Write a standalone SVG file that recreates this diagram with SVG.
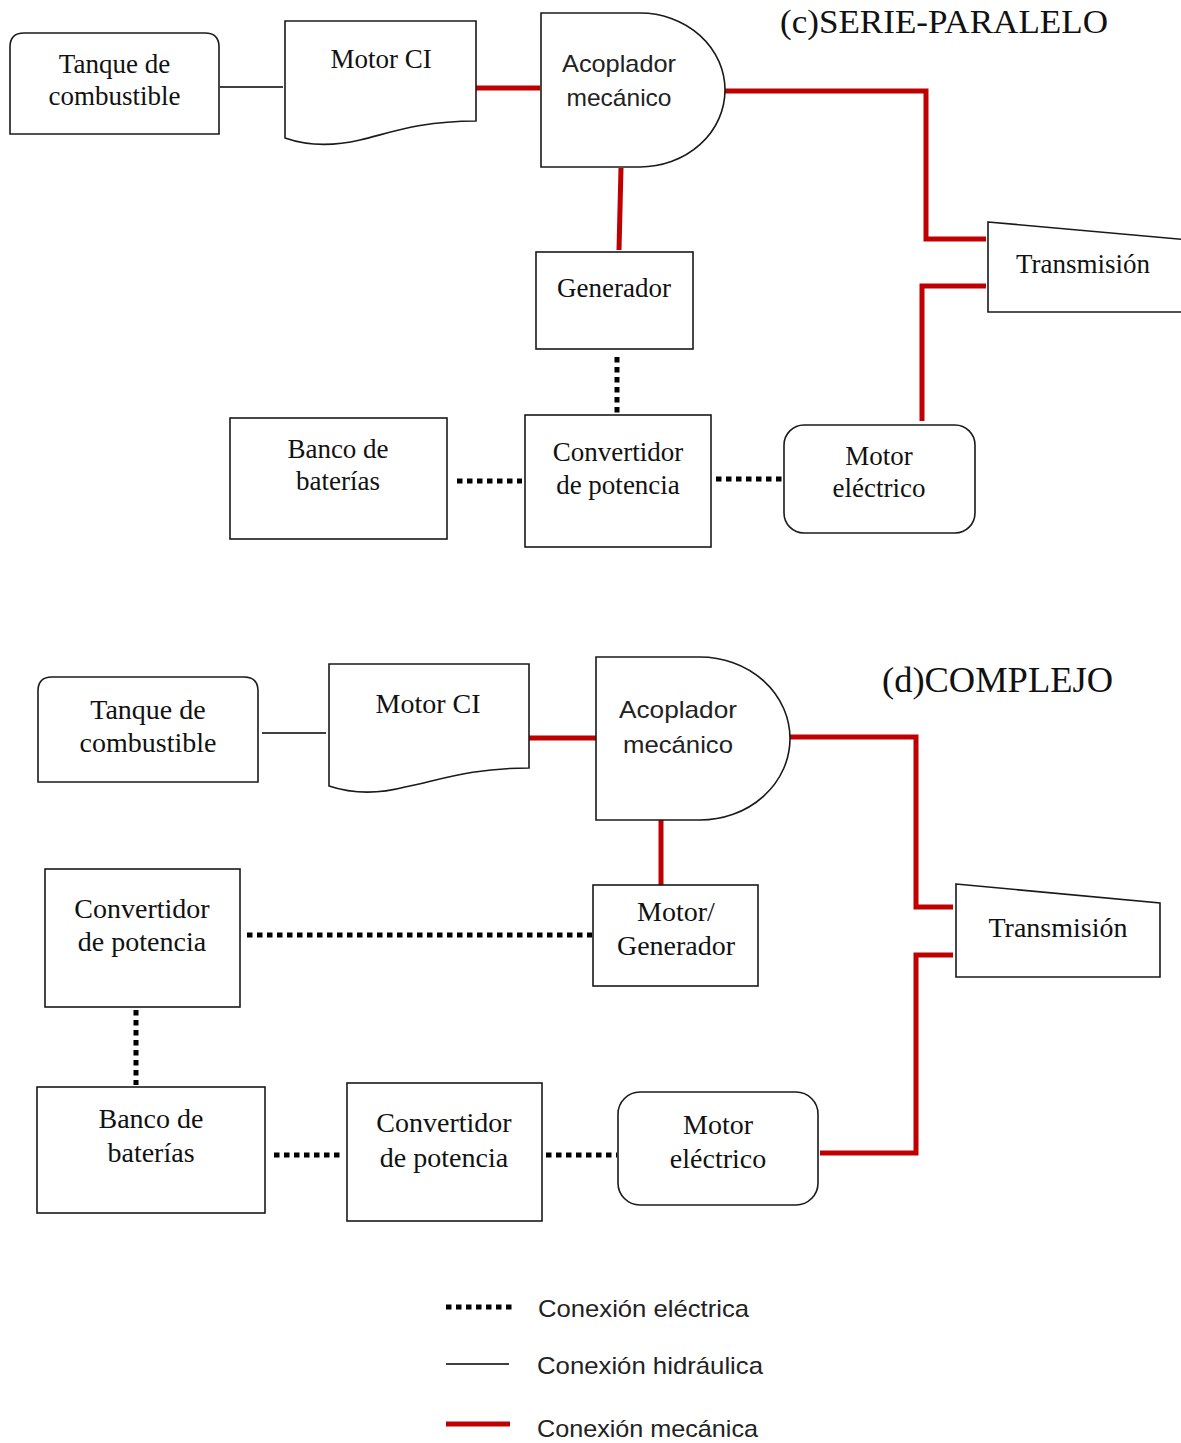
<svg xmlns="http://www.w3.org/2000/svg" width="1181" height="1443" viewBox="0 0 1181 1443">
<style>
.node{fill:#fff;stroke:#1a1a1a;stroke-width:1.6}
.serif{font-family:"Liberation Serif","Times New Roman",serif;font-size:27px;fill:#111;text-anchor:middle}
.serif28{font-family:"Liberation Serif","Times New Roman",serif;font-size:28px;fill:#111;text-anchor:middle}
.sans{font-family:"Liberation Sans",Arial,sans-serif;font-size:24px;fill:#222;text-anchor:middle}
.leg{font-family:"Liberation Sans",Arial,sans-serif;font-size:24px;fill:#222}
.title{font-family:"Liberation Serif","Times New Roman",serif;fill:#111}
.hyd{stroke:#000;stroke-width:1.5;fill:none}
.mec{stroke:#C00000;stroke-width:5;fill:none}
.ele{stroke:#000;stroke-width:5;stroke-dasharray:5.5 4.5;fill:none}
</style>
<rect x="0" y="0" width="1181" height="1443" fill="#fff"/>

<g id="connectors">
  <!-- top (c) -->
  <path class="hyd" d="M220,87 H283"/>
  <path class="mec" d="M476,88 H540"/>
  <path class="mec" d="M725,91 H926 V239 H986"/>
  <path class="mec" d="M986,286 H922 V421"/>
  <path class="mec" d="M621,168 L619,250"/>
  <path class="ele" d="M617,357 V413"/>
  <path class="ele" d="M457,481 H522"/>
  <path class="ele" d="M716,479 H783"/>
  <!-- bottom (d) -->
  <path class="hyd" d="M262,733 H326"/>
  <path class="mec" d="M529,738 H596"/>
  <path class="mec" d="M790,737 H916 V907 H953"/>
  <path class="mec" d="M953,955 H916 V1153 H820"/>
  <path class="mec" d="M661,820 V885"/>
  <path class="ele" d="M247,935 H592"/>
  <path class="ele" d="M136,1010 V1085"/>
  <path class="ele" d="M274,1155 H344"/>
  <path class="ele" d="M546,1155 H617"/>
</g>

<!-- (c) SERIE-PARALELO -->
<text class="title" x="780" y="33" font-size="33" textLength="328" lengthAdjust="spacingAndGlyphs">(c)SERIE-PARALELO</text>

<g id="c-tanque">
  <path class="node" d="M10,134 V47 Q10,33 24,33 H205 Q219,33 219,47 V134 Z"/>
  <text class="serif" x="114.5" y="73">Tanque de</text>
  <text class="serif" x="114.5" y="105">combustible</text>
</g>
<g id="c-motorci">
  <path class="node" d="M285,21 H476 V121 C420,121 390,133 360,140 C330,147 305,145 285,138 Z"/>
  <text class="serif" x="381" y="68">Motor CI</text>
</g>
<g id="c-acoplador">
  <path class="node" d="M541,13 H640 A85,77 0 0 1 640,167 H541 Z"/>
  <text class="sans" x="619" y="72" textLength="114" lengthAdjust="spacingAndGlyphs">Acoplador</text>
  <text class="sans" x="619" y="106" textLength="105" lengthAdjust="spacingAndGlyphs">mecánico</text>
</g>
<g id="c-transmision">
  <polygon class="node" points="988,222 1190,240 1190,312 988,312"/>
  <text class="serif" x="1083" y="273">Transmisión</text>
</g>
<g id="c-generador">
  <rect class="node" x="536" y="252" width="157" height="97"/>
  <text class="serif" x="614" y="297">Generador</text>
</g>
<g id="c-convertidor">
  <rect class="node" x="525" y="415" width="186" height="132"/>
  <text class="serif" x="618" y="461">Convertidor</text>
  <text class="serif" x="618" y="494">de potencia</text>
</g>
<g id="c-banco">
  <rect class="node" x="230" y="418" width="217" height="121"/>
  <text class="serif" x="338" y="458">Banco de</text>
  <text class="serif" x="338" y="490">baterías</text>
</g>
<g id="c-motorelec">
  <rect class="node" x="784" y="425" width="191" height="108" rx="20" ry="20"/>
  <text class="serif" x="879" y="465">Motor</text>
  <text class="serif" x="879" y="497">eléctrico</text>
</g>

<!-- (d) COMPLEJO -->
<text class="title" x="882" y="692" font-size="35" textLength="231" lengthAdjust="spacingAndGlyphs">(d)COMPLEJO</text>

<g id="d-tanque">
  <path class="node" d="M38,782 V691 Q38,677 52,677 H244 Q258,677 258,691 V782 Z"/>
  <text class="serif28" x="148" y="719">Tanque de</text>
  <text class="serif28" x="148" y="752">combustible</text>
</g>
<g id="d-motorci">
  <path class="node" d="M329,664 H529 V768 C470,768 440,780 405,787 C375,795 350,793 329,786 Z"/>
  <text class="serif28" x="428" y="713">Motor CI</text>
</g>
<g id="d-acoplador">
  <path class="node" d="M596,657 H700 A90,81.5 0 0 1 700,820 H596 Z"/>
  <text class="sans" x="678" y="718" textLength="118" lengthAdjust="spacingAndGlyphs">Acoplador</text>
  <text class="sans" x="678" y="753" textLength="110" lengthAdjust="spacingAndGlyphs">mecánico</text>
</g>
<g id="d-transmision">
  <polygon class="node" points="956,884 1160,903 1160,977 956,977"/>
  <text class="serif28" x="1058" y="937">Transmisión</text>
</g>
<g id="d-motorgen">
  <rect class="node" x="593" y="885" width="165" height="101"/>
  <text class="serif28" x="676" y="921">Motor/</text>
  <text class="serif28" x="676" y="955">Generador</text>
</g>
<g id="d-convertidor1">
  <rect class="node" x="45" y="869" width="195" height="138"/>
  <text class="serif28" x="142" y="918">Convertidor</text>
  <text class="serif28" x="142" y="951">de potencia</text>
</g>
<g id="d-banco">
  <rect class="node" x="37" y="1087" width="228" height="126"/>
  <text class="serif28" x="151" y="1128">Banco de</text>
  <text class="serif28" x="151" y="1162">baterías</text>
</g>
<g id="d-convertidor2">
  <rect class="node" x="347" y="1083" width="195" height="138"/>
  <text class="serif28" x="444" y="1132">Convertidor</text>
  <text class="serif28" x="444" y="1167">de potencia</text>
</g>
<g id="d-motorelec">
  <rect class="node" x="618" y="1092" width="200" height="113" rx="22" ry="22"/>
  <text class="serif28" x="718" y="1134">Motor</text>
  <text class="serif28" x="718" y="1168">eléctrico</text>
</g>

<g id="legend">
  <path class="ele" d="M446,1307 H515" stroke-width="4.5" stroke-dasharray="4.5 6"/>
  <path class="hyd" d="M446,1364 H509"/>
  <path class="mec" d="M446,1424 H510" stroke-width="6"/>
  <text class="leg" x="538" y="1317" textLength="211" lengthAdjust="spacingAndGlyphs">Conexión eléctrica</text>
  <text class="leg" x="537" y="1374" textLength="226" lengthAdjust="spacingAndGlyphs">Conexión hidráulica</text>
  <text class="leg" x="537" y="1437" textLength="221" lengthAdjust="spacingAndGlyphs">Conexión mecánica</text>
</g>
</svg>
